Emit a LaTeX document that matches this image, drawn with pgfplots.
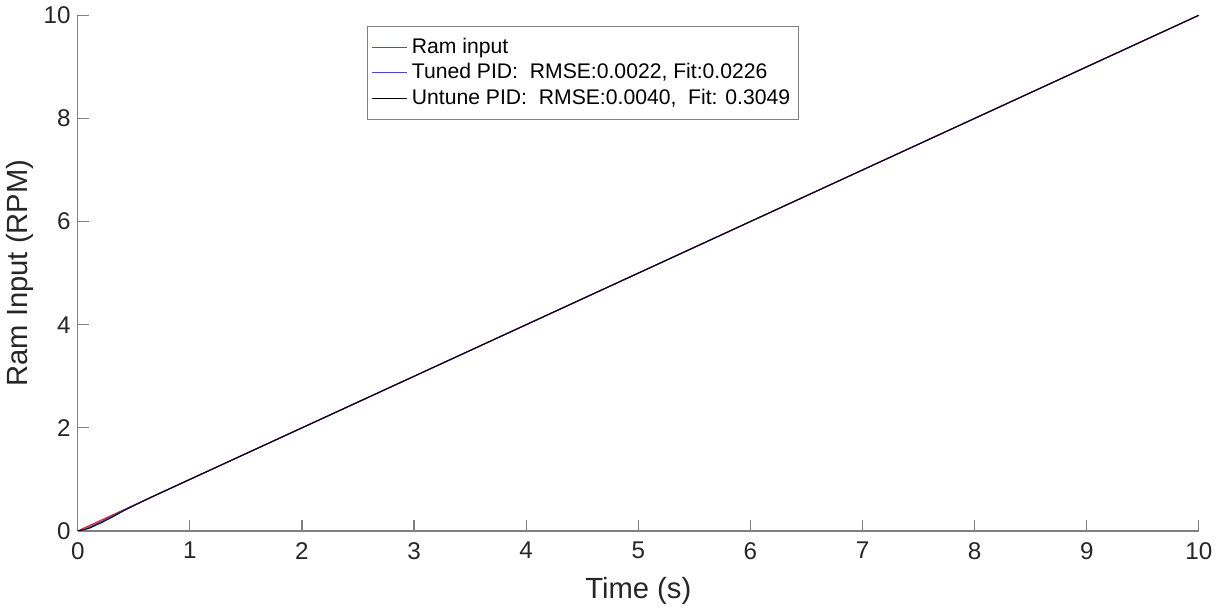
\documentclass[border=0pt]{standalone}
\usepackage{fontspec}
\setmainfont{Liberation Sans}
\usepackage{pgfplots}
\pgfplotsset{compat=1.18}
\definecolor{axgray}{RGB}{128,128,128}
\definecolor{txt}{RGB}{38,38,38}
\definecolor{ramred}{RGB}{235,30,30}
\definecolor{tunedblue}{RGB}{70,70,210}

\begin{document}
\begin{tikzpicture}
\begin{axis}[
  width=556.5pt, height=256pt, scale only axis,
  xmin=0, xmax=10, ymin=0, ymax=10,
  xtick={0,1,...,10}, ytick={0,2,...,10},
  axis lines*=left,
  axis line style={axgray, line width=0.6pt},
  tick style={axgray, line width=0.6pt},
  tick align=inside, major tick length=5.5pt,
  ticklabel style={font=\fontsize{12}{14}\selectfont, text=txt},
  xticklabel style={yshift=-2pt},
  /pgf/number format/assume math mode=true,
  xlabel={Time (s)}, ylabel={Ram Input (RPM)},
  label style={font=\fontsize{14.5}{17}\selectfont, text=txt},
  xlabel style={yshift=-2pt},
  ylabel style={yshift=-2pt},
  legend style={at={(0.258,0.98)}, anchor=north west, draw=axgray,
    fill=white, font=\fontsize{10.5}{12.5}\selectfont, text=black,
    inner xsep=2pt, inner ysep=4pt, row sep=-0.5pt},
  legend cell align=left,
  legend image code/.code={\draw[#1] (0pt,0pt) -- (17.5pt,0pt);},
]
\addplot[ramred, line width=0.6pt] coordinates {(0,0) (10,10)};
\addlegendentry{Ram input}
\addplot[tunedblue, line width=0.6pt] coordinates {
 (0,0) (0.05,0.02) (0.1,0.07) (0.2,0.17) (0.3,0.28) (0.4,0.39) (0.6,0.6) (1,1) (10,10)};
\addlegendentry{Tuned PID:\ \ RMSE:0.0022, Fit:0.0226}
\addplot[black, line width=0.5pt] coordinates {
 (0,0) (0.1,0.05) (0.2,0.15) (0.3,0.26) (0.4,0.38) (0.5,0.49) (0.7,0.7) (1,1) (10,10)};
\addlegendentry{Untune PID:\ \ RMSE:0.0040,\ \ Fit: 0.3049}
\end{axis}
\end{tikzpicture}
\end{document}
